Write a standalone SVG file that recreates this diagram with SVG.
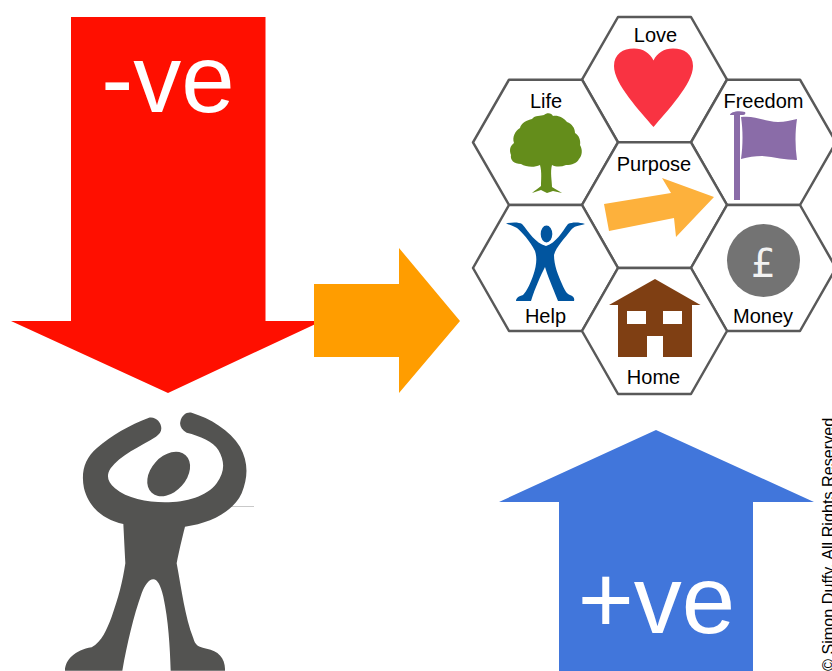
<svg xmlns="http://www.w3.org/2000/svg" width="832" height="671" viewBox="0 0 832 671">
<style>
.hex{fill:#fff;stroke:#595959;stroke-width:2.500;stroke-linejoin:round}
.lbl{font-family:"Liberation Sans",Arial,sans-serif;font-size:20px;fill:#000;text-anchor:middle}
.big{font-family:"Liberation Sans",Arial,sans-serif;font-size:96px;fill:#fff;text-anchor:middle}
</style>
<rect width="832" height="671" fill="#fff"/>
<g id="connectors">
<path id="arrow-negative" d="M71 17H265.500V321H322L168 393L11 321H71Z" fill="#ff0f00"/>
<path id="arrow-result" d="M314 284H399V248L460 321L399 393V357H314Z" fill="#ff9d00"/>
<path id="arrow-positive" d="M656 430L814 502H753V671H559V502H499Z" fill="#4176db"/>
</g>
<text class="big" x="168" y="112">-ve</text>
<text class="big" x="656.500" y="633">+ve</text>
<g id="person">
<path d="M220 506.500H254" stroke="#c9c9c9" stroke-width="1"/>
<g transform="translate(50 400) scale(.33333)" fill="#535351">
<path d="M295 54C315 48 334 66 334 85C334 96 328 103 318 110C270 140 210 165 182 205C168 226 172 245 195 265C230 295 290 307 345 307C410 307 470 290 500 250C525 215 525 185 505 150C490 125 450 108 410 98C395 90 388 78 391 65C395 45 410 35 425 38C480 55 540 90 570 140C595 185 595 230 575 280C550 335 480 370 405 380C395 420 388 450 380 490C395 570 405 650 430 715C435 735 445 742 470 746C505 752 527 775 525 812H362C360 740 355 660 340 590C332 555 322 538 310 538C296 538 285 555 275 580C250 650 232 730 217 812H45C45 780 75 750 125 742C155 725 170 690 185 650C205 595 218 545 226 490C224 450 222 410 220 372C160 360 115 320 102 265C92 215 105 175 140 145C185 105 240 75 295 54Z"/>
<ellipse cx="356" cy="222" rx="53" ry="76" transform="rotate(42 356 222)"/>
</g>
</g>
<g id="hex-love"><polygon class="hex" points="582,79.700 618,17 691,17 727,79.700 691,142.300 618,142.300"/><text class="lbl" x="655.500" y="41.500">Love</text>
<path d="M653.500 127C640 111 614 84 614 66C614 54 623 48.500 634 48.500C643 48.500 650 53 653.500 60.500C657 53 664 48.500 673 48.500C684 48.500 693 54 693 66C693 84 667 111 653.500 127Z" fill="#f93342"/></g>
<g id="hex-life"><polygon class="hex" points="473,142.300 509,79.700 582,79.700 618,142.300 582,205 509,205"/><text class="lbl" x="546" y="107.500">Life</text>
<path d="M540 165C534 168 526 167 521 164C514 164 510 160 511 155C509 150 510 146 514 143C512 137 515 131 520 128C521 123 527 120 532 119C535 115 541 116 544 115C547 112 552 113 553 116C558 115 564 118 567 122C572 124 575 128 575 133C579 135 581 141 580 145C583 150 582 156 579 159C577 163 572 165 566 165C561 167 556 167 552 165C550 172 552 181 552 187C555 189 559 191 562 193L553 191L547 193L541 190L532 193C535 190 539 188 541 186C541 180 542 172 540 165Z" fill="#648d1b"/></g>
<g id="hex-freedom"><polygon class="hex" points="691,142.300 727,79.700 800,79.700 836,142.300 800,205 727,205"/><text class="lbl" x="763.500" y="107.500">Freedom</text>
<path d="M734 115H730C730 112 738 110 745 112C746 113 745 115 743 115H740V200H734Z" fill="#8a6ca8"/>
<path d="M741 117C755 115 765 122 778 122C785 122 791 120 797 119C795 132 795 146 797 160C785 160 775 157 762 156C755 156 748 157 741 159C743 145 743 130 741 117Z" fill="#8a6ca8"/></g>
<g id="hex-purpose"><polygon class="hex" points="582,205 618,142.300 691,142.300 727,205 691,268 618,268"/><text class="lbl" x="654" y="170.500">Purpose</text>
<path d="M604 204L671 193L662 178L714 197L676 237L674 218L609 231Z" fill="#fdb13c"/></g>
<g id="hex-help"><polygon class="hex" points="473,268 509,205 582,205 618,268 582,331 509,331"/><text class="lbl" x="545.500" y="322.500">Help</text>
<path d="M506 223.500C512 222 519 222 522 224C529 232 535 243 546 246C556 243 562 232 568 224C572 222 579 222 585 224C578 226 574 226 571 230C565 238 556 247 554 255C554 265 558 275 562 284C565 291 567 294 570 295C573 296 575 298 574 301H558C552 286 547 274 545 267C541 275 535 288 531 301H516C516 298 519 296 523 295C527 291 530 284 533 276C537 265 537 257 535 251C530 241 522 232 517 228C514 226 510 225 506 223.500Z" fill="#01559f"/>
<ellipse cx="546.500" cy="234" rx="5.800" ry="8.500" fill="#01559f"/></g>
<g id="hex-money"><polygon class="hex" points="691,268 727,205 800,205 836,268 800,331 727,331"/><text class="lbl" x="763" y="322.500">Money</text>
<circle cx="763.500" cy="260.500" r="36.500" fill="#737373"/>
<text x="763.500" y="276.500" font-family="'DejaVu Sans',sans-serif" font-size="39" fill="#f2f2f2" text-anchor="middle">£</text></g>
<g id="hex-home"><polygon class="hex" points="582,331 618,268 691,268 727,331 691,394 618,394"/><text class="lbl" x="653.500" y="383.500">Home</text>
<path d="M655 279L700.500 305H692V357H663V336H647V357H618V305H609Z" fill="#7f3f13"/>
<rect x="627" y="311" width="19" height="13" fill="#fff"/><rect x="663" y="311" width="19" height="13" fill="#fff"/></g>
<text transform="translate(833.500 671) rotate(-90)" font-family="'Liberation Sans',Arial,sans-serif" font-size="16.200" fill="#000">© Simon Duffy. All Rights Reserved</text>
</svg>
